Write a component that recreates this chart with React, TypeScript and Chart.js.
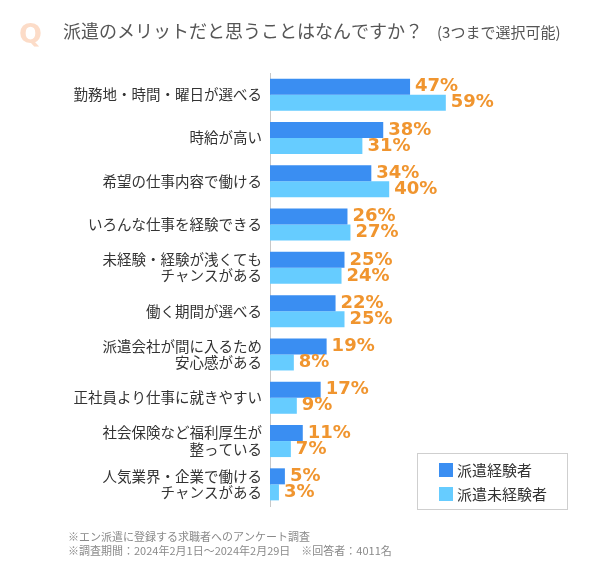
import React, { useEffect, useRef } from "react";
import { Chart, registerables } from "chart.js";

Chart.register(...registerables);

const categories: string[][] = [
  ["勤務地・時間・曜日が選べる"],
  ["時給が高い"],
  ["希望の仕事内容で働ける"],
  ["いろんな仕事を経験できる"],
  ["未経験・経験が浅くても", "チャンスがある"],
  ["働く期間が選べる"],
  ["派遣会社が間に入るため", "安心感がある"],
  ["正社員より仕事に就きやすい"],
  ["社会保険など福利厚生が", "整っている"],
  ["人気業界・企業で働ける", "チャンスがある"],
];
const experienced: number[] = [47, 38, 34, 26, 25, 22, 19, 17, 11, 5];
const inexperienced: number[] = [59, 31, 40, 27, 24, 25, 8, 9, 7, 3];
const seriesNames: string[] = ["派遣経験者", "派遣未経験者"];
const titleText = "派遣のメリットだと思うことはなんですか？";
const subtitleText = "(3つまで選択可能)";
const footnotes: string[] = [
  "※エン派遣に登録する求職者へのアンケート調査",
  "※調査期間：2024年2月1日～2024年2月29日　※回答者：4011名",
];

const DARK = "#3A8EF2";
const LIGHT = "#66CCFF";
const ORANGE = "#F0952F";
const JP = '"Noto Sans CJK JP", "Noto Sans", sans-serif';

const decorPlugin = {
  id: "decor",
  afterDatasetsDraw(chart: any) {
    const ctx = chart.ctx;
    ctx.save();
    ctx.font = 'bold 18px "DejaVu Sans", sans-serif';
    ctx.fillStyle = ORANGE;
    ctx.textAlign = "left";
    ctx.textBaseline = "middle";
    chart.data.datasets.forEach((ds: any, di: number) => {
      const meta = chart.getDatasetMeta(di);
      meta.data.forEach((bar: any, i: number) => {
        ctx.fillText(ds.data[i] + "%", bar.x + 5, bar.y);
      });
    });
    ctx.restore();
  },
  afterDraw(chart: any) {
    const ctx = chart.ctx;
    ctx.save();
    ctx.font = 'bold 27px "DejaVu Sans", sans-serif';
    ctx.fillStyle = "#FCDCC8";
    ctx.textBaseline = "middle";
    ctx.textAlign = "left";
    ctx.fillText("Q", 19, 36);
    ctx.font = "18px " + JP;
    ctx.fillStyle = "#555555";
    ctx.fillText(titleText, 63, 31);
    const w = ctx.measureText(titleText).width;
    ctx.font = "15px " + JP;
    ctx.fillText(subtitleText, 63 + w + 14, 32);
    ctx.strokeStyle = "#CFCFCF";
    ctx.lineWidth = 1;
    ctx.strokeRect(417.5, 453.5, 150, 56);
    ctx.fillStyle = DARK;
    ctx.fillRect(439, 463, 14, 14);
    ctx.fillStyle = LIGHT;
    ctx.fillRect(439, 487, 14, 14);
    ctx.font = "15px " + JP;
    ctx.fillStyle = "#333333";
    ctx.fillText(seriesNames[0], 457, 470);
    ctx.fillText(seriesNames[1], 457, 494);
    ctx.font = "11px " + JP;
    ctx.fillStyle = "#8A8A8A";
    ctx.fillText(footnotes[0], 68, 537);
    ctx.fillText(footnotes[1], 68, 551);
    ctx.restore();
  },
};

export default function App() {
  const ref = useRef<HTMLCanvasElement>(null);
  useEffect(() => {
    if (!ref.current) return;
    const chart = new Chart(ref.current, {
      type: "bar",
      data: {
        labels: categories,
        datasets: [
          { label: seriesNames[0], data: experienced, backgroundColor: DARK, barPercentage: 1, categoryPercentage: 0.74 },
          { label: seriesNames[1], data: inexperienced, backgroundColor: LIGHT, barPercentage: 1, categoryPercentage: 0.74 },
        ],
      },
      options: {
        indexAxis: "y",
        animation: false,
        responsive: false,
        layout: { padding: { left: 0, top: 73, right: 32, bottom: 69 } },
        plugins: { legend: { display: false }, tooltip: { enabled: false } },
        scales: {
          x: { display: false, min: 0, max: 100 },
          y: {
            afterFit: (s: any) => { s.width = 270; },
            grid: { display: false, drawTicks: false },
            border: { display: true, color: "#C8C8C8", width: 1 },
            ticks: {
              padding: 8,
              color: "#333333",
              font: { size: 14.5, family: JP, lineHeight: 1.12 },
              autoSkip: false,
            },
          },
        },
      },
      plugins: [decorPlugin],
    });
    return () => chart.destroy();
  }, []);
  return (
    <div style={{ position: "absolute", left: 0, top: 0, width: 600, height: 575, background: "#fff" }}>
      <canvas ref={ref} width={600} height={575} style={{ width: 600, height: 575, display: "block" }} />
    </div>
  );
}
